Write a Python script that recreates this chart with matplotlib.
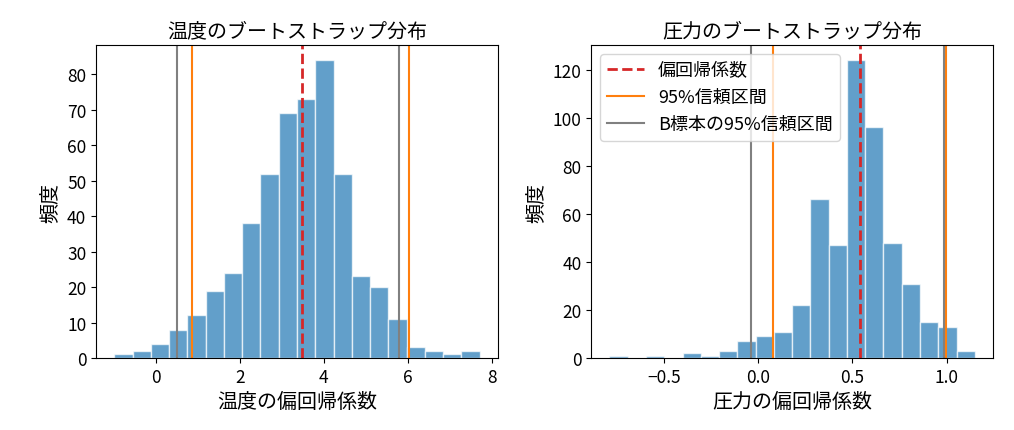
import numpy as np
import matplotlib
matplotlib.use("Agg")
import matplotlib.pyplot as plt
from matplotlib.ticker import MultipleLocator

plt.rcParams["font.family"] = ["Noto Sans CJK JP", "DejaVu Sans"]
plt.rcParams["axes.unicode_minus"] = True

# ブートストラップ分布の度数
temp_counts = [1, 2, 4, 8, 12, 19, 24, 38, 52, 69, 73, 84, 52, 23, 20, 11, 3, 2, 1, 2]
temp_range = (-0.99, 7.71)
temp_coef = 3.47
temp_ci = [0.87, 6.02]
temp_ci_b = [0.51, 5.79]

pres_counts = [1, 0, 1, 0, 2, 1, 3, 7, 9, 11, 22, 66, 47, 124, 96, 48, 31, 15, 13, 3]
pres_range = (-0.79, 1.15)
pres_coef = 0.54
pres_ci = [0.077, 0.995]
pres_ci_b = [-0.037, 0.985]

titles = ["温度のブートストラップ分布", "圧力のブートストラップ分布"]
xlabels = ["温度の偏回帰係数", "圧力の偏回帰係数"]


def draw_hist(ax, counts, rng, coef, ci, ci_b, title, xlabel, legend=False):
    edges = np.linspace(rng[0], rng[1], len(counts) + 1)
    ax.hist(edges[:-1], bins=edges, weights=counts, color="tab:blue",
            alpha=0.7, edgecolor="white", linewidth=1)
    ax.axvline(coef, color="tab:red", linestyle="--", linewidth=2, label="偏回帰係数")
    ax.axvline(ci[0], color="tab:orange", linewidth=1.5, label="95%信頼区間")
    ax.axvline(ci[1], color="tab:orange", linewidth=1.5)
    ax.axvline(ci_b[0], color="gray", linewidth=1.5, label="B標本の95%信頼区間")
    ax.axvline(ci_b[1], color="gray", linewidth=1.5)
    ax.set_title(title, fontsize=14.4)
    ax.set_xlabel(xlabel, fontsize=14.4)
    ax.set_ylabel("頻度", fontsize=14.4)
    ax.tick_params(labelsize=12.5)
    if legend:
        ax.legend(loc="upper left", fontsize=13)


fig = plt.figure(figsize=(10.14, 4.31), dpi=100)
ax1 = fig.add_axes([0.0947, 0.167, 0.3964, 0.726])
ax2 = fig.add_axes([0.583, 0.167, 0.3964, 0.726])

draw_hist(ax1, temp_counts, temp_range, temp_coef, temp_ci, temp_ci_b, titles[0], xlabels[0])
draw_hist(ax2, pres_counts, pres_range, pres_coef, pres_ci, pres_ci_b, titles[1], xlabels[1], legend=True)
ax1.yaxis.set_major_locator(MultipleLocator(10))

fig.savefig("out.png", dpi=100)
